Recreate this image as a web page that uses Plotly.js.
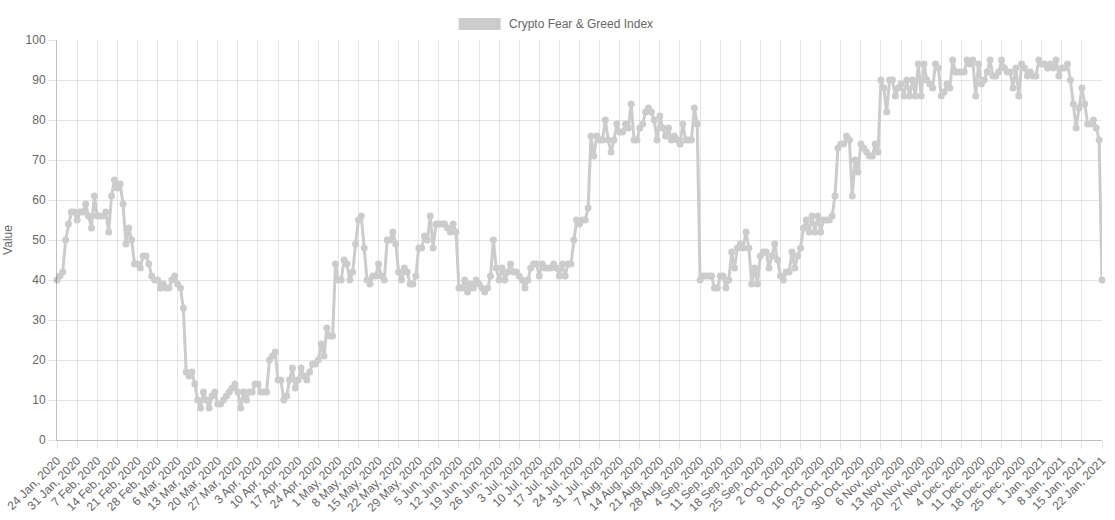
<!DOCTYPE html>
<html>
<head>
<meta charset="utf-8">
<script src="https://cdn.plot.ly/plotly-3.0.1.min.js"></script>
<style>
  html, body { margin: 0; padding: 0; background: #fff; }
  #chart { width: 1115px; height: 520px; }
</style>
</head>
<body>
<div id="chart"></div>
<script>
// ---- data ----
const seriesName = "Crypto Fear & Greed Index";
const startDate = "2020-01-24";
const values = [
  40, 41, 42, 50, 54, 57, 57, 55, 57, 57,
  59, 56, 53, 61, 56, 56, 56, 57, 52, 61,
  65, 63, 64, 59, 49, 53, 50, 44, 44, 43,
  46, 46, 44, 41, 40, 40, 38, 39, 38, 38,
  40, 41, 39, 38, 33, 17, 16, 17, 14, 10,
  8, 12, 10, 8, 11, 12, 9, 9, 10, 11,
  12, 13, 14, 12, 8, 12, 10, 12, 12, 14,
  14, 12, 12, 12, 20, 21, 22, 15, 15, 10,
  11, 15, 18, 13, 15, 18, 16, 15, 17, 19,
  19, 20, 24, 21, 28, 26, 26, 44, 40, 40,
  45, 44, 40, 42, 49, 55, 56, 48, 40, 39,
  41, 41, 44, 41, 40, 50, 50, 52, 49, 42,
  40, 43, 42, 39, 39, 41, 48, 48, 51, 50,
  56, 48, 54, 54, 54, 54, 53, 52, 54, 52,
  38, 38, 40, 37, 39, 38, 40, 39, 38, 37,
  38, 41, 50, 43, 40, 43, 40, 42, 44, 42,
  42, 41, 40, 38, 40, 43, 44, 44, 41, 44,
  43, 43, 43, 44, 43, 41, 44, 41, 44, 44,
  50, 55, 54, 55, 55, 58, 76, 71, 76, 75,
  75, 80, 75, 72, 75, 79, 77, 77, 79, 78,
  84, 75, 75, 78, 79, 82, 83, 82, 80, 75,
  81, 78, 76, 78, 75, 76, 75, 74, 79, 75,
  75, 75, 83, 79, 40, 41, 41, 41, 41, 38,
  38, 41, 41, 38, 40, 47, 43, 48, 49, 48,
  52, 48, 39, 43, 39, 46, 47, 47, 43, 46,
  49, 45, 41, 40, 42, 42, 47, 43, 46, 48,
  53, 55, 52, 56, 52, 56, 52, 55, 55, 55,
  56, 61, 73, 74, 74, 76, 75, 61, 70, 67,
  74, 73, 72, 71, 71, 74, 72, 90, 88, 82,
  90, 90, 86, 88, 89, 86, 90, 86, 90, 86,
  94, 86, 94, 90, 89, 88, 94, 93, 86, 87,
  89, 88, 95, 92, 92, 92, 92, 95, 94, 95,
  86, 94, 89, 90, 92, 95, 91, 91, 92, 95,
  93, 92, 92, 88, 93, 86, 94, 93, 91, 92,
  91, 91, 95, 94, 94, 93, 94, 93, 95, 91,
  93, 93, 94, 90, 84, 78, 83, 88, 84, 79,
  79, 80, 78, 75, 40
];
const tickLabels = [
  "24 Jan, 2020", "31 Jan, 2020", "7 Feb, 2020", "14 Feb, 2020", "21 Feb, 2020",
  "28 Feb, 2020", "6 Mar, 2020", "13 Mar, 2020", "20 Mar, 2020", "27 Mar, 2020",
  "3 Apr, 2020", "10 Apr, 2020", "17 Apr, 2020", "24 Apr, 2020", "1 May, 2020",
  "8 May, 2020", "15 May, 2020", "22 May, 2020", "29 May, 2020", "5 Jun, 2020",
  "12 Jun, 2020", "19 Jun, 2020", "26 Jun, 2020", "3 Jul, 2020", "10 Jul, 2020",
  "17 Jul, 2020", "24 Jul, 2020", "31 Jul, 2020", "7 Aug, 2020", "14 Aug, 2020",
  "21 Aug, 2020", "28 Aug, 2020", "4 Sep, 2020", "11 Sep, 2020", "18 Sep, 2020",
  "25 Sep, 2020", "2 Oct, 2020", "9 Oct, 2020", "16 Oct, 2020", "23 Oct, 2020",
  "30 Oct, 2020", "6 Nov, 2020", "13 Nov, 2020", "20 Nov, 2020", "27 Nov, 2020",
  "4 Dec, 2020", "11 Dec, 2020", "18 Dec, 2020", "25 Dec, 2020", "1 Jan, 2021",
  "8 Jan, 2021", "15 Jan, 2021", "22 Jan, 2021"
];
const yTicks = [0, 10, 20, 30, 40, 50, 60, 70, 80, 90, 100];

// ---- build dates (one per day) ----
const [sy, sm, sd] = startDate.split("-").map(Number);
const dates = values.map((_, i) =>
  new Date(Date.UTC(sy, sm - 1, sd + i)).toISOString().slice(0, 10));
const tickDates = tickLabels.map((_, k) => dates[k * 7]);

const FONT = '"Liberation Sans", Arial, Helvetica, sans-serif';
const TXT = '#666666';
const GRID = 'rgba(0,0,0,0.1)';
const LINECOL = '#cccccc';

const trace = {
  type: 'scatter',
  mode: 'lines+markers',
  x: dates,
  y: values,
  name: seriesName,
  line: { color: LINECOL, width: 3 },
  marker: { color: LINECOL, size: 7 },
  cliponaxis: false,
  showlegend: false
};

const layout = {
  width: 1115,
  height: 520,
  margin: { l: 57.3, r: 12.7, t: 40, b: 80 },
  paper_bgcolor: '#ffffff',
  plot_bgcolor: '#ffffff',
  font: { family: FONT, size: 12, color: TXT },
  showlegend: false,
  xaxis: {
    type: 'date',
    range: [dates[0], dates[dates.length - 1]],
    tickmode: 'array',
    tickvals: tickDates,
    ticktext: tickLabels,
    tickangle: -45,
    showgrid: true,
    gridcolor: GRID,
    gridwidth: 1,
    showline: true,
    linecolor: 'rgba(0,0,0,0.25)',
    linewidth: 1,
    ticks: 'outside',
    ticklen: 8,
    tickcolor: GRID,
    zeroline: false,
    tickfont: { family: FONT, size: 12, color: TXT },
    fixedrange: true
  },
  yaxis: {
    range: [0, 100],
    tickmode: 'array',
    tickvals: yTicks,
    showgrid: true,
    gridcolor: GRID,
    gridwidth: 1,
    showline: true,
    linecolor: 'rgba(0,0,0,0.25)',
    linewidth: 1,
    ticks: 'outside',
    ticklen: 8,
    tickcolor: GRID,
    zeroline: false,
    tickfont: { family: FONT, size: 12, color: TXT },
    title: { text: 'Value', font: { family: FONT, size: 12, color: TXT }, standoff: 10 },
    fixedrange: true
  },
  shapes: [{
    type: 'rect', xref: 'paper', yref: 'paper',
    x0: (459 - 57.3) / 1045, x1: (501 - 57.3) / 1045,
    y0: (440 - 30) / 400, y1: (440 - 18) / 400,
    fillcolor: LINECOL, line: { width: 0 }
  }],
  annotations: [{
    xref: 'paper', yref: 'paper',
    x: (507 - 57.3) / 1045, y: (440 - 24) / 400,
    xanchor: 'left', yanchor: 'middle',
    text: seriesName, showarrow: false,
    font: { family: FONT, size: 12, color: TXT }
  }]
};

Plotly.newPlot('chart', [trace], layout, { displayModeBar: false, staticPlot: true });
</script>
</body>
</html>
